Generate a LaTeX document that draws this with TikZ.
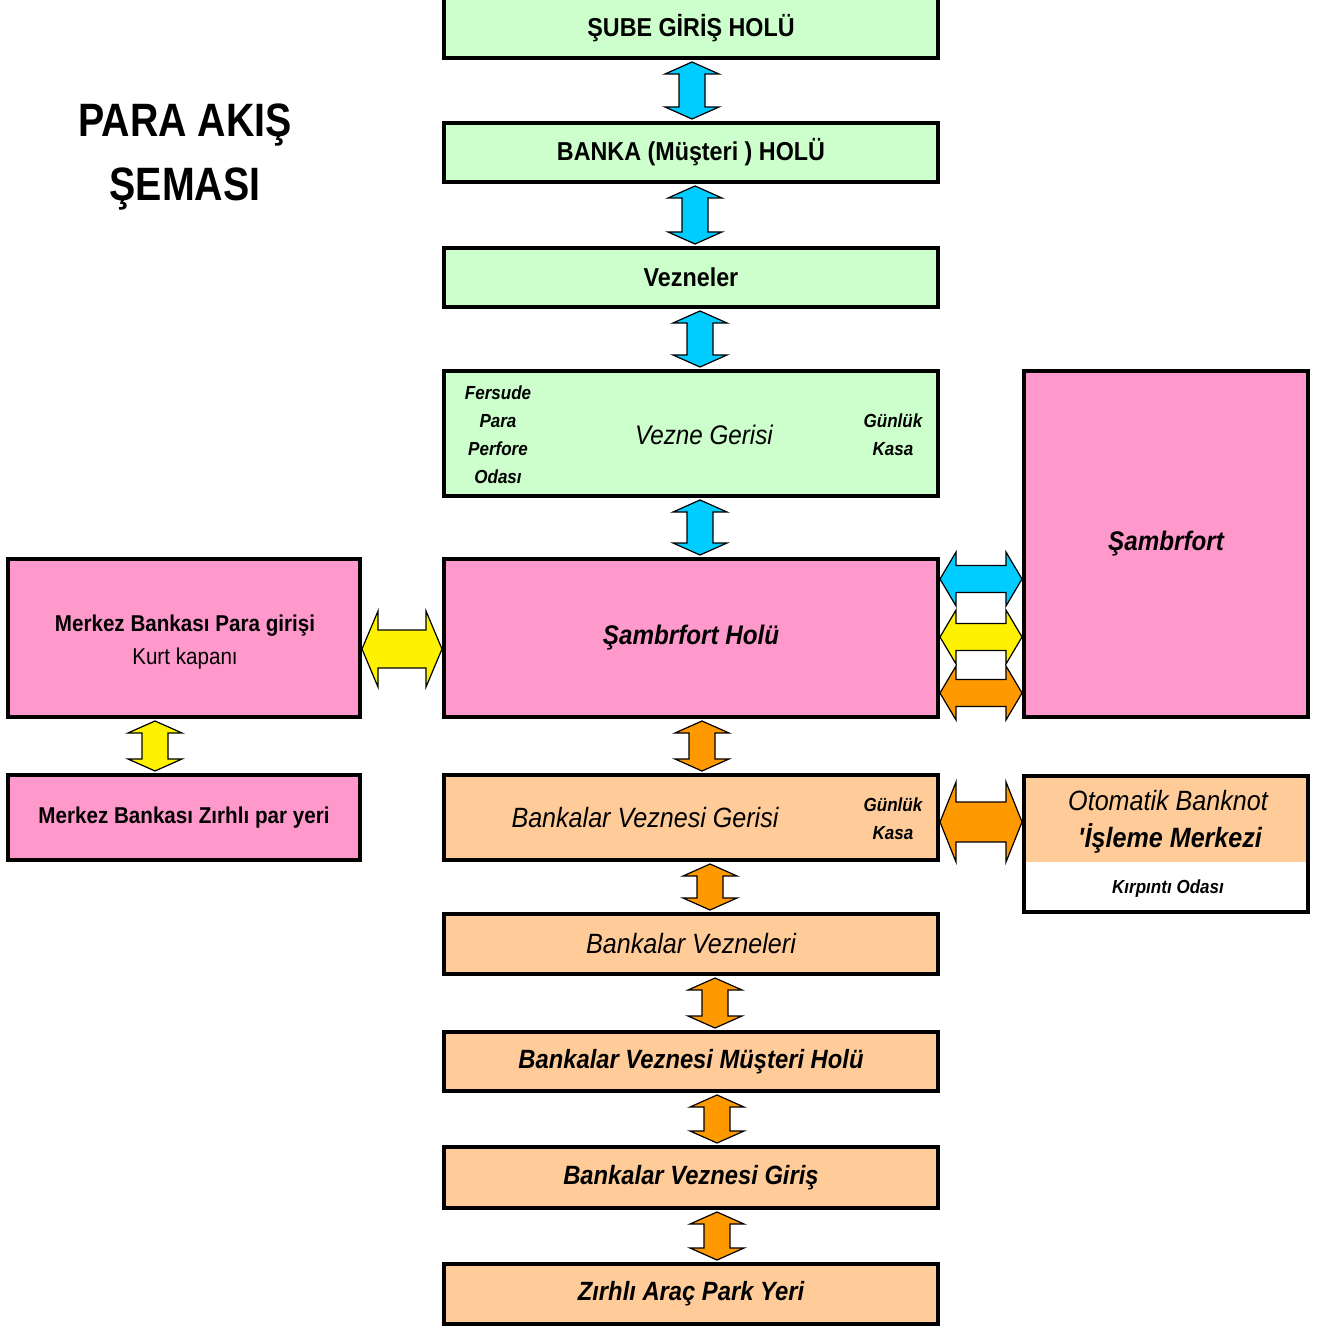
\documentclass[tikz,border=0pt]{standalone}
\usepackage{fontspec}
\setmainfont{Liberation Sans}[FakeStretch=0.9]
\newfontfamily\titlefont{Liberation Sans}[FakeStretch=0.84]
\usepackage{tikz}
\usetikzlibrary{calc,shadows}
\definecolor{mint}{HTML}{CCFFCC}
\definecolor{rose}{HTML}{FF99CC}
\definecolor{peach}{HTML}{FFCC99}
\definecolor{sky}{HTML}{00CCFF}
\definecolor{amber}{HTML}{FF9900}
\tikzstyle{room}=[draw, line width=4bp, inner sep=0pt, align=center,
  drop shadow={shadow xshift=1.5bp, shadow yshift=-1.5bp, opacity=1, fill=black}]
\tikzstyle{hall}=[room, fill=mint, minimum width=494bp]
\tikzstyle{pinkroom}=[room, fill=rose]
\tikzstyle{bankroom}=[room, fill=peach, minimum width=494bp]
\tikzstyle{txtb}=[font=\bfseries\fontsize{26}{30}\selectfont]
\tikzstyle{txtbi}=[font=\bfseries\itshape\fontsize{26.5}{30}\selectfont]
\tikzstyle{txti}=[font=\itshape\fontsize{28}{32}\selectfont]
\tikzstyle{txtsm}=[font=\bfseries\itshape\fontsize{19}{28}\selectfont, align=center]
\tikzstyle{flow}=[draw, line width=1.2bp, line join=miter]
\newcommand{\room}{\node[room]}
\newcommand{\varrow}[4]{\draw[flow, fill=#4] let \p1=(#1.south), \p2=(#2.north) in
  (#3bp,\y1-2bp) -- (#3bp+27bp,\y1-14bp) -- (#3bp+13bp,\y1-14bp) -- (#3bp+13bp,\y2+14bp)
  -- (#3bp+27bp,\y2+14bp) -- (#3bp,\y2+2bp) -- (#3bp-27bp,\y2+14bp) -- (#3bp-13bp,\y2+14bp)
  -- (#3bp-13bp,\y1-14bp) -- (#3bp-27bp,\y1-14bp) -- cycle;}
\newcommand{\harrow}[6]{\draw[flow, fill=#4] let \p1=(#1.east), \p2=(#2.west) in
  (\x1,-#3bp) -- (\x1+16bp,-#3bp+#5bp) -- (\x1+16bp,-#3bp+#6bp) -- (\x2-16bp,-#3bp+#6bp)
  -- (\x2-16bp,-#3bp+#5bp) -- (\x2,-#3bp) -- (\x2-16bp,-#3bp-#5bp) -- (\x2-16bp,-#3bp-#6bp)
  -- (\x1+16bp,-#3bp-#6bp) -- (\x1+16bp,-#3bp-#5bp) -- cycle;}

\begin{document}
\begin{tikzpicture}[x=1bp,y=-1bp]
    \useasboundingbox[fill=white] (0,0) rectangle (1318,1329);
    \node[font=\titlefont\bfseries\fontsize{47}{65}\selectfont, align=center] (title) at (185,157) {PARA AKIŞ\\ŞEMASI};

    \node[hall, txtb, minimum height=60bp] (sube) at (691,28) {ŞUBE GİRİŞ HOLÜ};
    \node[hall, txtb, minimum height=59bp] (banka) at (691,152.5) {BANKA (Müşteri ) HOLÜ};
    \node[hall, txtb, minimum height=59bp] (vezne) at (691,277.5) {Vezneler};
    \node[hall, minimum height=125bp] (gerisi) at (691,433.5) {};
    \node[txti, font=\itshape\fontsize{27}{32}\selectfont] (gerisitxt) at (704,435) {Vezne Gerisi};
    \node[txtsm] (fersude) at (498,435) {Fersude\\Para\\Perfore\\Odası};
    \node[txtsm] (kasa1) at (893,435) {Günlük\\Kasa};

    \node[pinkroom, font=\bfseries\itshape\fontsize{27}{30}\selectfont, minimum width=494bp, minimum height=158bp] (holu) at (691,638) {Şambrfort Holü};
    \node[pinkroom, font=\bfseries\itshape\fontsize{27}{30}\selectfont, minimum width=284bp, minimum height=346bp] (sambr) at (1166,544) {Şambrfort};
    \node[pinkroom, minimum width=352bp, minimum height=158bp] (merkez) at (184,638) {};
    \node[font=\fontsize{23}{33}\selectfont, align=center] (merkeztxt) at (185,642) {\bfseries Merkez Bankası Para girişi\\Kurt kapanı};
    \node[pinkroom, font=\bfseries\fontsize{23}{30}\selectfont, minimum width=352bp, minimum height=85bp] (zirhli) at (184,817.5) {Merkez Bankası Zırhlı par yeri};

    \node[bankroom, minimum height=85bp] (bvg) at (691,817.5) {};
    \node[txti] (bvgtxt) at (645,818) {Bankalar Veznesi Gerisi};
    \node[txtsm] (kasa2) at (893,819) {Günlük\\Kasa};
    \node[bankroom, txti, minimum height=60bp] (vezneleri) at (691,944) {Bankalar Vezneleri};
    \node[bankroom, txtbi, minimum height=59bp] (mholu) at (691,1061.5) {Bankalar Veznesi Müşteri Holü};
    \node[bankroom, txtbi, minimum height=61bp] (giris) at (691,1177.5) {Bankalar Veznesi Giriş};
    \node[bankroom, txtbi, minimum height=60bp] (park) at (691,1294) {Zırhlı Araç Park Yeri};

    \node[room, fill=white, minimum width=284bp, minimum height=136bp,
      path picture={\fill[peach] (path picture bounding box.north west) rectangle ([yshift=-86bp]path picture bounding box.north east);}] (oto) at (1166,844) {};
    \node[txti] (otoa) at (1168,801) {Otomatik Banknot};
    \node[txtbi, font=\bfseries\itshape\fontsize{28}{30}\selectfont] (otob) at (1170,838) {\textquotesingle İşleme Merkezi};
    \node[txtsm] (otoc) at (1168,889) {Kırpıntı Odası};

    \varrow{sube}{banka}{692}{sky}
    \varrow{banka}{vezne}{695}{sky}
    \varrow{vezne}{gerisi}{700}{sky}
    \varrow{gerisi}{holu}{700}{sky}
    \varrow{holu}{bvg}{702}{amber}
    \varrow{bvg}{vezneleri}{710}{amber}
    \varrow{vezneleri}{mholu}{715}{amber}
    \varrow{mholu}{giris}{717}{amber}
    \varrow{giris}{park}{717}{amber}
    \varrow{merkez}{zirhli}{155}{yellow}

    \harrow{merkez}{holu}{649}{yellow}{38}{19}
    \harrow{holu}{sambr}{579}{sky}{27}{13.5}
    \harrow{holu}{sambr}{637}{yellow}{27}{13.5}
    \harrow{holu}{sambr}{693}{amber}{27}{13.5}
    \harrow{bvg}{oto}{822}{amber}{40}{20}
\end{tikzpicture}
\end{document}
